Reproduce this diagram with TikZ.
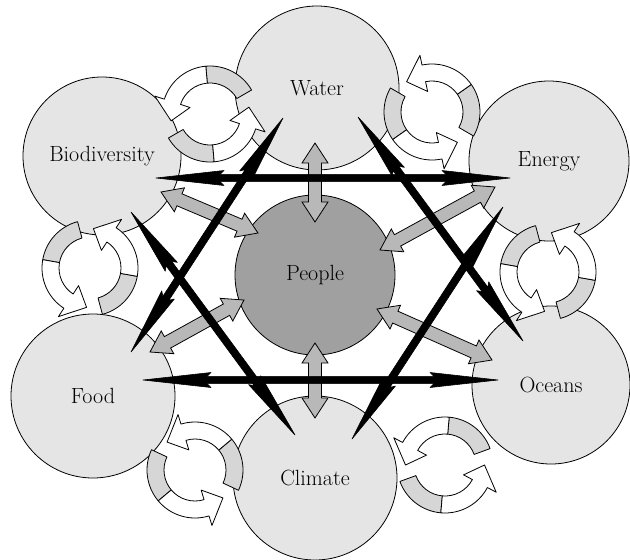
\documentclass[tikz,border=0pt]{standalone}
\usepackage{fontspec}
\usetikzlibrary{arrows.meta}
\definecolor{circfill}{RGB}{229,229,229}
\definecolor{peoplefill}{RGB}{160,160,160}
\definecolor{grayarrfill}{RGB}{184,184,184}
\definecolor{icongray}{RGB}{214,214,214}
\tikzset{
  outer/.style={circle, draw=black, line width=0.8pt, fill=circfill, inner sep=0pt, font=\fontsize{22}{25}\selectfont},
  peoplenode/.style={circle, draw=black, line width=0.8pt, fill=peoplefill, inner sep=0pt, minimum size=160pt, font=\fontsize{22}{25}\selectfont},
  iconline/.style={draw=black, line width=0.8pt, line join=round},
  grayarr/.style={draw=black, line width=0.8pt, fill=grayarrfill, line join=miter},
  blackarr/.style={draw=black, line width=0.6pt, fill=black, line join=round}
}
\newcommand\ribbonpart[1]{%
 \pgfmathsetmacro\RBa{#1}%
 \pgfmathsetmacro\RBb{#1+65}%
 \pgfmathsetmacro\RBc{#1+132}%
 \pgfmathsetmacro\RBd{#1+160}%
 \draw[iconline, fill=icongray] (\RBa:31) arc[start angle=\RBa, end angle=\RBb, radius=31] -- (\RBb:48) arc[start angle=\RBb, end angle=\RBa, radius=48] -- cycle;
 \draw[iconline, fill=white] (\RBb:31) arc[start angle=\RBb, end angle=\RBc, radius=31] -- (\RBc:21) -- (\RBd:39.5) -- (\RBc:58) -- (\RBc:48) arc[start angle=\RBc, end angle=\RBb, radius=48] -- cycle;
}
\newcommand\cycicon[3]{%
 \begin{scope}[shift={(#1,#2)}, yscale=-1]
 \ribbonpart{#3}
 \ribbonpart{#3+180}
 \end{scope}}
\newcommand\polyarrow[7]{%
 \path (#2); \pgfgetlastxy{\PAax}{\PAay}%
 \path (#3); \pgfgetlastxy{\PAbx}{\PAby}%
 \pgfmathsetmacro\PAang{atan2(\PAby-\PAay,\PAbx-\PAax)}%
 \pgfmathsetmacro\PAlen{veclen(\PAbx-\PAax,\PAby-\PAay)}%
 \pgfmathsetmacro\PAa{#4}%
 \pgfmathsetmacro\PAb{#4-#7}%
 \pgfmathsetmacro\PAc{\PAlen-#4+#7}%
 \pgfmathsetmacro\PAd{\PAlen-#4}%
 \draw[#1, shift={(#2)}, rotate=\PAang] (0pt,0pt) -- (\PAa pt,#5pt) -- (\PAb pt,#6pt) -- (\PAc pt,#6pt) -- (\PAd pt,#5pt) -- (\PAlen pt,0pt) -- (\PAd pt,-#5pt) -- (\PAc pt,-#6pt) -- (\PAb pt,-#6pt) -- (\PAa pt,-#5pt) -- cycle;
}
\begin{document}
\begin{tikzpicture}[x=1pt,y=-1pt]
\useasboundingbox (0,0) rectangle (630,560);
% outer circles
\node[outer, minimum size=164pt] (water) at (317,88) {Water};
\node[outer, minimum size=158pt] (bio) at (102,156) {Biodiversity};
\node[outer, minimum size=160pt] (energy) at (549,161) {Energy};
\node[outer, minimum size=164pt] (food) at (93,396) {Food};
\node[outer, minimum size=158pt] (oceans) at (551,385) {Oceans};
\node[outer, minimum size=164pt] (climate) at (315,478) {Climate};
% cycle icons
\cycicon{210}{114}{30}
\cycicon{432}{112}{-30}
\cycicon{90}{268}{105}
\cycicon{548}{272}{105}
\cycicon{195}{470}{-25}
\cycicon{445}{465}{20}
% people
\node[peoplenode] (people) at (315,275) {People};
% gray arrow end points
\coordinate (gwa) at (315,143); \coordinate (gwb) at (315,222);
\coordinate (gba) at (161,192); \coordinate (gbb) at (258,233);
\coordinate (gea) at (495,187); \coordinate (geb) at (380,250);
\coordinate (gfa) at (150,352); \coordinate (gfb) at (244,300);
\coordinate (goa) at (492,360); \coordinate (gob) at (377,309);
\coordinate (gca) at (315,343); \coordinate (gcb) at (315,418);
\polyarrow{grayarr}{gwa}{gwb}{20}{13}{6.5}{0}
\polyarrow{grayarr}{gba}{gbb}{20}{13}{6.5}{0}
\polyarrow{grayarr}{gea}{geb}{20}{13}{6.5}{0}
\polyarrow{grayarr}{gfa}{gfb}{20}{13}{6.5}{0}
\polyarrow{grayarr}{goa}{gob}{20}{13}{6.5}{0}
\polyarrow{grayarr}{gca}{gcb}{20}{13}{6.5}{0}
% black arrow end points
\coordinate (kbe1) at (156,178); \coordinate (kbe2) at (510,178);
\coordinate (kfo1) at (143,380); \coordinate (kfo2) at (498,380);
\coordinate (kwf1) at (283,118); \coordinate (kwf2) at (131,352);
\coordinate (kwo1) at (358,117); \coordinate (kwo2) at (523,341);
\coordinate (kbc1) at (131,212); \coordinate (kbc2) at (295,435);
\coordinate (kec1) at (503,207); \coordinate (kec2) at (352,439);
\polyarrow{blackarr}{kbe1}{kbe2}{68}{7.5}{3.6}{4}
\polyarrow{blackarr}{kfo1}{kfo2}{68}{7.5}{3.6}{4}
\polyarrow{blackarr}{kwf1}{kwf2}{68}{7.5}{3.6}{4}
\polyarrow{blackarr}{kwo1}{kwo2}{68}{7.5}{3.6}{4}
\polyarrow{blackarr}{kbc1}{kbc2}{68}{7.5}{3.6}{4}
\polyarrow{blackarr}{kec1}{kec2}{68}{7.5}{3.6}{4}
\end{tikzpicture}
\end{document}
